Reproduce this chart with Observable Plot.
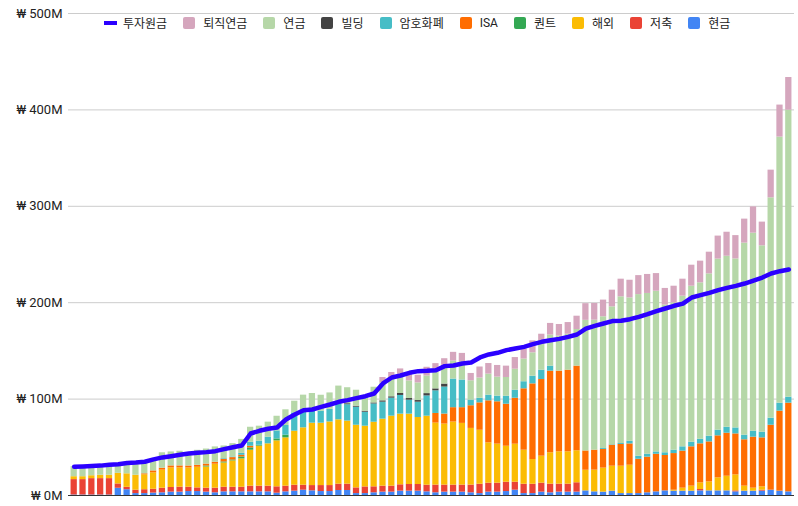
<!DOCTYPE html>
<html>
<head>
<meta charset="utf-8">
<script src="https://cdn.jsdelivr.net/npm/d3@7"></script>
<script src="https://cdn.jsdelivr.net/npm/@observablehq/plot@0.6"></script>
<style>
  html, body { margin: 0; padding: 0; background: #fff; }
  #wrap { position: relative; width: 798px; height: 506px; }
  #legend { position: absolute; left: 104px; top: 14px; display: flex; align-items: center;
            font-family: Roboto, "Noto Sans CJK KR", sans-serif; font-size: 12px; color: #222; }
  .item { display: flex; align-items: center; margin-right: 16px; white-space: nowrap; }
  .sw { width: 12px; height: 12px; border-radius: 2px; margin-right: 8px; }
  .ln { width: 13px; height: 4px; margin-right: 6px; }
</style>
</head>
<body>
<div id="wrap"><div id="chart"></div><div id="legend"></div></div>
<script>
// 82 monthly periods (no x labels shown in the chart)
const periods = Array.from({length: 82}, (_, i) => i + 1);

// values in millions of KRW, bottom of the stack first
const cash = [0.5,0.5,0.5,0.5,0.5,7.5,6,2,2,2.5, 2.8,3.5,3.5,4.1,4.1,3.5,2.8,3.8,3.8,3.8, 3.8,3.8,3.8,2.4,3.8,4.5,5.5,4.8,4.1,4.1, 5.2,5.2,2,2,2.8,3.5,3.5,4.5,4.5,4.5, 3.8,2.8,3.5,3.5,3.5,2.8,2,3.5,3.5,4.1, 5.5,2,2,3.5,2.8,3.5,3.5,3.5,4.8,3.8, 3.5,4.5,2,2,2,2.8,3.8,4.8,4.5,4.5, 4.5,4.8,4.8,4.8,4.8,3.8,4.5,4.5,4.5,5.5, 4.5,3.8];
const savings = [16,16,17,17,17,4.5,2.5,3.5,4,4, 4.8,4.8,5.2,4.5,3.8,4.1,4.8,4.8,4.8,4.8, 5.9,5.9,5.9,6.6,5.9,6.2,5.2,5.5,6.2,6.2, 6.6,6.6,5.9,6.9,6.2,6.2,6.2,6.6,6.9,6.9, 6.9,8,7.3,7.3,7.3,8,9.7,9.3,9.3,9.7, 8.3,9.7,9.7,9.3,9,8.3,8.3,9.7,0,0, 0,0,0,0,0,0,0,0,0,0, 0,1.4,0,0,0,1,0,0,1,0, 0,0];
const overseas = [3,3,3,3.5,3.5,11,14,15.5,15.5,17, 18.7,20.4,20,20,21.4,22,24.9,25.2,27.3,29.4, 37.3,41.5,43.9,47.7,50.1,56,59.5,64.7,64.7,66, 66.7,65.4,65,63,67,69.5,72.6,73.3,73,69.5, 71.6,64.3,63.3,65.4,64,58.8,56,41.8,40.5,37.3, 39.4,35.3,25.6,28,32.5,33.5,33.5,33.2,21.4,22.5, 24.9,25.9,28.4,29.4,0,0,0,0,1,3.1, 5.2,6.9,9.3,13.5,15.2,16.6,5.2,3.1,3.5,0, 0,0];
const quant = [0,0,0,0,0,0,0,0,0,0, 0,0,0,0,0,1,0,1,1,2, 2.4,1,0,2,2.8,0,0,0,0,0, 0,0,0,0,0,0,0,0,0,0, 0,0,0,0,0,0,0,0,0,0, 0,0,0,0,0,0,0,0,0,0, 0,0,0,0,0,0,0,0,0,0, 0,0,0,0,0,0,0,0,0,0, 0,0];
const isa = [0,0,0,0,0,0,0,0,1,2, 2,2,2,2,2,2,2,2.8,2.4,1.7, 1.7,0,0,0,0,0,0,0,0,0, 0,0,0,0,0,0,0,0,0,0, 0,10,10.4,14.9,16.3,23.5,28.4,43.6,43.9,43.6, 47.7,63.7,78.5,79.5,84.7,83.7,84.7,87.8,20,20.7, 19.4,21.8,22.5,22.1,35.6,37,39,36.7,38,38.4, 40.8,40.5,41.5,43.6,44.6,42.5,48.1,52.9,50.8,67.4, 83,92];
const crypto = [0,0,0,0,0,0,0,0,0,0, 0,0,0,0,0,0,0,0.7,0.7,2, 4.1,4.1,6.9,8.3,10,19,17.3,13.5,12.4,13.1, 17,17,18.7,14.5,19,17.6,18.7,19.4,14.5,15.9, 21,23.5,28,29.7,28.7,5.9,4.8,5.9,5.9,8.3, 8.3,7.3,8,9.7,5.2,0,0,0,0,0, 1,0.5,1,2.8,3.1,3.1,2.4,2.8,3.5,4.5, 4.8,4.8,5.9,5.9,6.2,6.2,4.8,6.2,5.9,7.3, 8.3,6.2];
const building = [0,0,0,0,0,0,0,0,0,0, 0,0,0,0,0,0,0,0,0,0, 0,0,0,0,0,0,0,0,0,0, 0,1,1,1,1,1.4,1.4,2,1.7,1.7, 2.4,2,3.1,0,0,0,0,0,0,0, 0,0,0,0,0,0,0,0,0,0, 0,0,0,0,0,0,0,0,0,0, 0,0,0,0,0,0,0,0,0,0, 0,0];
const pension = [10.5,9,8.5,8,9.5,8,9.5,11,10.5,10, 16,14.5,15.2,14,15.6,15.6,15.9,13.1,13.8,14.5, 15.6,15.6,15.6,15.2,16.3,12.1,16.6,17.3,16.6,17, 18,16.6,16.6,14.9,16.3,18.7,20,20,18.3,18.3, 18.3,17.6,19.4,18.7,19,20,21,21.8,19.7,19.4, 21.8,23.5,24.2,26.6,32.2,36.3,37.3,38,135.5,134.9, 136.6,143,152.2,148.7,167.7,166.7,166.7,153.2,152.8,156.3, 161.8,162.2,168.4,177.4,177.4,175.3,199.2,205.4,193.3,228.6, 276,297.7];
const retirement = [0,0,0,0,0,0,0,0,0,0, 0,0,0,0,0,0,0,0,0,0, 0,0,0,0,0,0,0,0,0,0, 0,0,0,0,0,5.5,5.2,5.5,7.6,8, 9,8.6,6.9,9,8.6,7.6,11.4,11,12.1,11.8, 12.1,10.4,12.4,10.7,12.1,12.1,12.1,13.8,17.3,17.3, 17.3,17.3,18.3,18.3,19.7,19.7,18.3,17.3,17.3,17.6, 21.8,22.5,22.5,23.9,24.9,24.2,24.9,27.3,24.6,28.7, 33.2,33.9];
// 투자원금 line
const principal = [29.7,30.2,30.7,31,32,32.5,33.8,34.2,35,37.5, 39.5,40.8,42.2,43.5,44.3,45,46,48.1,50.1,51.9, 64.3,67.1,69.2,70.5,78.8,84,88.5,89.2,92,94.4, 97.2,98.9,101,103,105.8,116.2,122.4,124.5,127.3,129, 129.3,130,134.2,134.9,136.9,138,143.2,146.3,148,150.8, 152.5,154.2,157,159.4,161,162.5,164.6,167,173.2,176, 178.4,180.9,181.2,182.9,185.3,188.1,191.2,194,196.8,199, 205.4,207.8,210.2,213,215.4,217.5,219.9,223,226.1,230.3, 232.7,234.5];

const seriesKeys   = ["현금","저축","해외","퀀트","ISA","암호화폐","빌딩","연금","퇴직연금"];
const seriesVals   = [cash, savings, overseas, quant, isa, crypto, building, pension, retirement];
const seriesColors = ["#4285f4","#ea4335","#fbbc04","#34a853","#ff6d01","#46bdc6","#434343","#b6d7a8","#d5a6bd"];
const lineKey = "투자원금";
const lineColor = "#2b00ff";
const yTicks = [0, 100, 200, 300, 400, 500];

const stacked = [];
periods.forEach((p, i) => seriesKeys.forEach((k, j) => stacked.push({period: p, key: k, value: seriesVals[j][i]})));
const lineData = periods.map((p, i) => ({period: p, value: principal[i]}));

const chart = Plot.plot({
  width: 798,
  height: 506,
  marginTop: 13,
  marginBottom: 11,
  marginLeft: 68,
  marginRight: 4,
  style: {fontFamily: "Roboto, 'Noto Sans CJK KR', sans-serif", fontSize: "13px", color: "#222", background: "#fff"},
  x: {type: "band", domain: periods, padding: 0.29, axis: null},
  y: {domain: [0, 500], axis: null},
  color: {domain: seriesKeys, range: seriesColors},
  marks: [
    Plot.gridY(yTicks, {stroke: "#cccccc", strokeOpacity: 1}),
    Plot.axisY(yTicks, {label: null, tickSize: 0, tickPadding: 6, tickFormat: d => `₩ ${d}M`, fontSize: 13, fill: "#222"}),
    Plot.barY(stacked, {x: "period", y: "value", fill: "key", order: seriesKeys}),
    Plot.ruleY([0], {stroke: "#333", strokeWidth: 1}),
    Plot.lineY(lineData, {x: "period", y: "value", stroke: lineColor, strokeWidth: 4.5, strokeLinejoin: "round", strokeLinecap: "round"})
  ]
});
document.getElementById("chart").appendChild(chart);

// legend (order as in the reference)
const legend = document.getElementById("legend");
const legendOrder = [lineKey, ...seriesKeys.slice().reverse()];
legendOrder.forEach(k => {
  const item = document.createElement("div");
  item.className = "item";
  const sw = document.createElement("div");
  if (k === lineKey) { sw.className = "ln"; sw.style.background = lineColor; }
  else { sw.className = "sw"; sw.style.background = seriesColors[seriesKeys.indexOf(k)]; }
  const t = document.createElement("span");
  t.textContent = k;
  item.appendChild(sw); item.appendChild(t);
  legend.appendChild(item);
});
</script>
</body>
</html>
